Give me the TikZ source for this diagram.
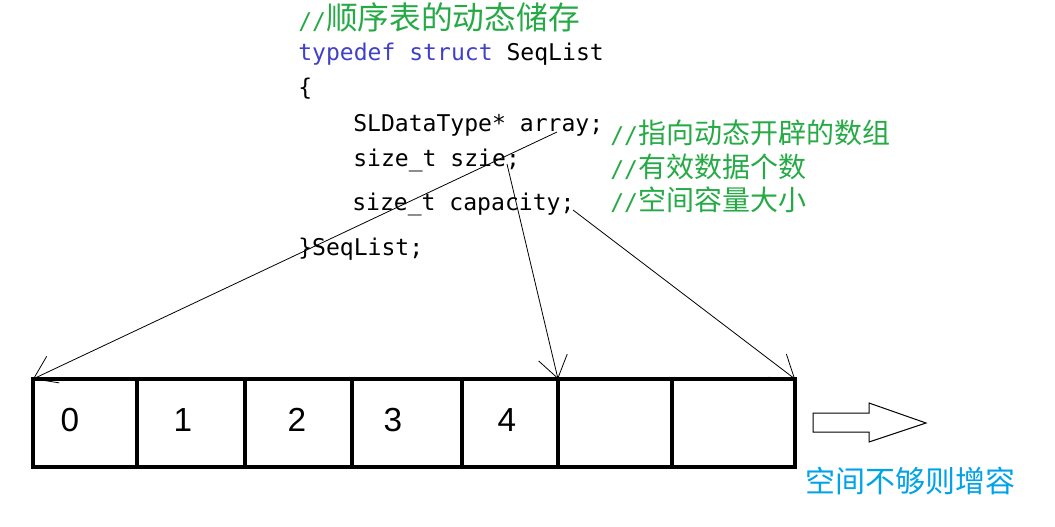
\documentclass[tikz,border=0pt]{standalone}
\usepackage{fontspec}
\setmainfont{Liberation Sans}
\newfontfamily\cjkfont{Noto Sans CJK SC}
\newfontfamily\codefont{DejaVu Sans Mono}
\usetikzlibrary{arrows.meta,positioning}
\definecolor{kwblue}{RGB}{64,64,200}
\definecolor{cmtgreen}{RGB}{38,170,70}
\definecolor{noteblue}{RGB}{0,162,232}
\newcommand{\zh}[2]{{\cjkfont\fontsize{#1}{#1}\selectfont #2}}
\tikzset{
  codeline/.style={anchor=base west,inner sep=0pt,
                   font=\codefont\fontsize{17.3}{20}\selectfont},
  note/.style={codeline,text=cmtgreen},
  cell/.style={draw,line width=2.7pt,outer sep=0pt,inner sep=0pt,
               minimum height=66pt,anchor=north west},
  digit/.style={inner sep=0pt,font=\fontsize{25}{30}\selectfont},
  ptr/.style={-{Straight Barb[length=16pt,width=22pt]},line width=.6pt},
}
\begin{document}
\begin{tikzpicture}[x=0.75pt,y=-0.75pt]
  \useasboundingbox (0,0) rectangle (1055,526);
  % struct code
  \node[note] (title) at (298,29) {//\zh{23.8}{顺序表的动态储存}};
  \node[codeline] (hdr) at (298,60) {\textcolor{kwblue}{typedef struct} SeqList};
  \node[codeline] (lb)  at (298,95) {\{};
  \node[codeline] (arr) at (353,131) {SLDataType* array;};
  \node[codeline] (sz)  at (353,166) {size\_t szie;};
  \node[codeline] (cap) at (352,210) {size\_t capacity;};
  \node[codeline] (rb)  at (298,255) {\}SeqList;};
  \node[note] (arrnote) at (610,143) {//\zh{21}{指向动态开辟的数组}};
  \node[note] (sznote)  at (610,177) {//\zh{21}{有效数据个数}};
  \node[note] (capnote) at (610,210) {//\zh{21}{空间容量大小}};
  % the array cells
  \foreach \i/\x/\w in {0/33/104,1/137/108,2/245/107,3/352/110,4/462/96,
      5/558/114,6/672/123}
    \node[cell,minimum width=\w*0.75pt] (c\i) at (\x,379) {};
  \foreach \d/\x in {0/70,1/183,2/297,3/393,4/507}
    \node[digit] (n\d) at (\x,420) {\d};
  % pointers
  \coordinate (arrtail) at (557,132);
  \coordinate (sztail)  at (507,164);
  \coordinate (captail) at (573,210);
  \draw[ptr] (arrtail) -- (c0.north west);
  \draw[ptr] (sztail) -- (c5.north west);
  \draw[ptr] (captail) -- (c6.north east);
  % grow arrow
  \draw[line width=.75pt] (813,413) -- (869,413) -- (869,403) -- (926,423)
    -- (869,442) -- (869,432) -- (813,432) -- cycle;
  \node[anchor=base west,inner sep=0pt,text=noteblue,
        font=\cjkfont\fontsize{22.5}{26}\selectfont] (grow) at (805,492)
    {空间不够则增容};
\end{tikzpicture}
\end{document}
